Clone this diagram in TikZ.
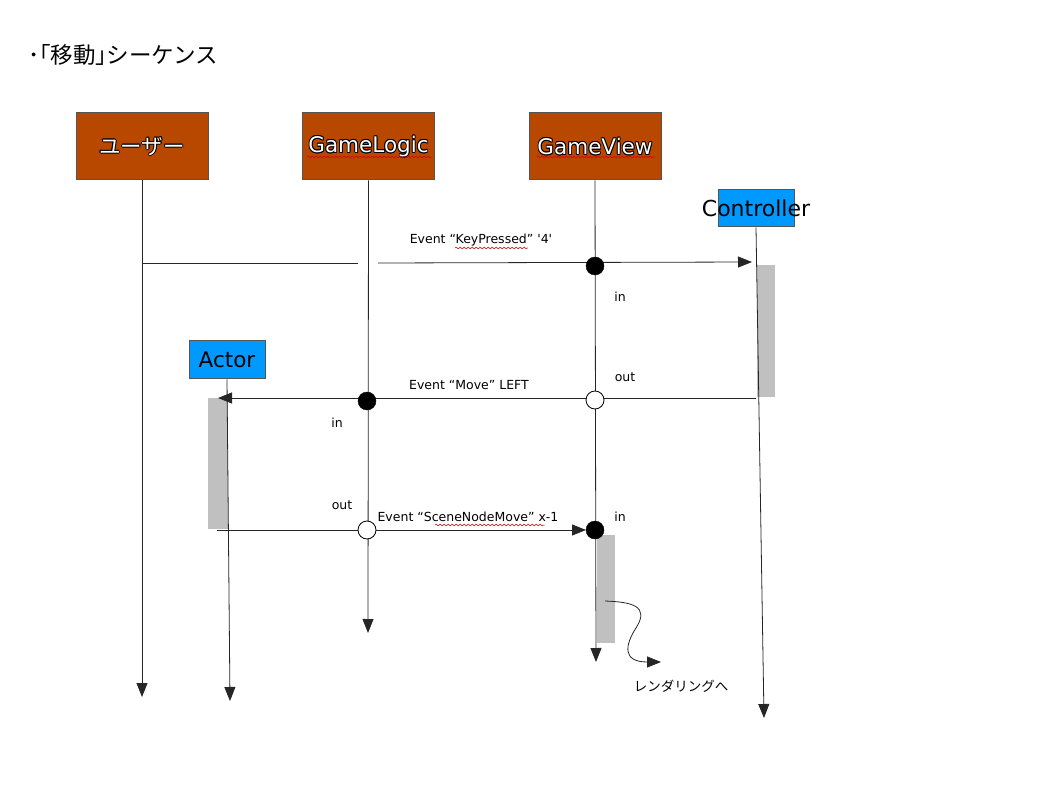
\documentclass[tikz,border=0pt]{standalone}
\usepackage{fontspec}
\setmainfont{DejaVu Sans}
\newfontfamily\dvp{DejaVu Sans}
\newfontfamily\jp{Noto Sans CJK JP}
\newfontfamily\jpp[RawFeature=+palt]{Noto Sans CJK JP}
\usetikzlibrary{arrows.meta,decorations.pathmorphing}
\definecolor{boxbrown}{HTML}{B84700}
\definecolor{boxblue}{HTML}{0099FF}
\definecolor{barg}{HTML}{C0C0C0}
\definecolor{edge}{HTML}{555555}
\newcommand\olt[1]{{\setbox0\hbox{\color{black}#1}\setbox2\hbox{\color{white}#1}%
\rlap{\kern0.9pt\copy0}\rlap{\kern-0.9pt\copy0}\rlap{\raise0.9pt\copy0}\rlap{\lower0.9pt\copy0}%
\rlap{\kern0.65pt\raise0.65pt\copy0}\rlap{\kern-0.65pt\raise0.65pt\copy0}%
\rlap{\kern0.65pt\lower0.65pt\copy0}\rlap{\kern-0.65pt\lower0.65pt\copy0}\box2}}
\tikzset{
  headbox/.style={draw=edge, line width=1pt, fill=boxbrown, minimum width=132pt, minimum height=67pt, inner sep=0pt, font=\fontsize{21.5}{24}\selectfont},
  bluebox/.style={draw=edge, line width=1pt, fill=boxblue, inner sep=0pt},
  life/.style={draw=black!85, line width=0.8pt},
  msg/.style={draw=black!85, line width=0.8pt},
  tip/.style={-{Triangle[length=14pt,width=11pt]}},
  lbl/.style={font=\dvp\fontsize{12.5}{14}\selectfont, inner sep=0pt},
  bar/.style={fill=barg, draw=none},
  dotf/.style={circle, fill=black, draw=black, minimum size=18pt, inner sep=0pt},
  doto/.style={circle, fill=white, draw=black, line width=0.8pt, minimum size=18pt, inner sep=0pt},
  spell/.style={draw=red!85!black, line width=0.5pt, decorate, decoration={snake, segment length=4pt, amplitude=0.9pt}},
}
\begin{document}
\begin{tikzpicture}[x=1pt,y=-1pt]
\useasboundingbox (0,0) rectangle (1058,794);
% title
\node[anchor=west, font=\fontsize{22.5}{26}\selectfont, inner sep=0pt] (title) at (28,55) {{\jpp ･「}{\jp 移動}{\jpp 」}{\jp シーケンス}};
% head boxes
\node[headbox] (user) at (142,146.5) {\jp\olt{ユーザー}};
\node[headbox] (logic) at (368.5,146.5) {\olt{GameLogic}};
\node[headbox] (view) at (595,146.5) {\olt{GameView}};
\node[bluebox, minimum width=76pt, minimum height=37pt, label={[font=\fontsize{22}{24}\selectfont, inner sep=0pt]center:Controller}] (ctrl) at (756,208.5) {};
\node[bluebox, minimum width=76pt, minimum height=38pt, label={[font=\fontsize{21.5}{24}\selectfont, inner sep=0pt]center:Actor}] (actor) at (227,360) {};
% spell-check marks
\coordinate (s1a) at (307,157); \coordinate (s1b) at (432,157);
\coordinate (s2a) at (537,157); \coordinate (s2b) at (655,157);
\draw[spell] (s1a) -- (s1b);
\draw[spell] (s2a) -- (s2b);
% activation bars
\node[bar, minimum width=18pt, minimum height=132pt, inner sep=0pt] (cbar) at (766,331) {};
\node[bar, minimum width=20pt, minimum height=131pt, inner sep=0pt] (abar) at (218,463.5) {};
\node[bar, minimum width=18pt, minimum height=108pt, inner sep=0pt] (vbar) at (606,589) {};
% lifeline ends
\coordinate (userE) at (142,697);
\coordinate (logicE) at (368,633);
\coordinate (viewE) at (596,662);
\coordinate (ctrlE) at (764,718);
\coordinate (actorE) at (230,701);
\draw[life, tip] (user.south) -- (userE);
\draw[life, tip] (logic.south) -- (logicE);
\draw[life, tip] (view.south) -- (viewE);
\draw[life, tip] (ctrl.south) -- (ctrlE);
\draw[life, tip] (actor.south) -- (actorE);
% message 1
\coordinate (m1a) at (142,263);
\coordinate (m1b) at (358,263);
\coordinate (m1c) at (378,263);
\coordinate (m1d) at (752,262);
\draw[msg] (m1a) -- (m1b);
\draw[msg, tip] (m1c) -- (m1d);
\node[dotf] (d1) at (595,266) {};
\node[lbl] (l1) at (481,240) {Event “KeyPressed” '4'};
\node[lbl] (in1) at (620,297) {in};
\coordinate (s3a) at (455,248); \coordinate (s3b) at (528,248);
\draw[spell] (s3a) -- (s3b);
% message 2
\coordinate (m2a) at (756,398);
\coordinate (m2b) at (218,398);
\draw[msg, tip] (m2a) -- (m2b);
\node[dotf] (d2) at (367,401) {};
\node[doto] (d3) at (595,400) {};
\node[lbl] (l2) at (469,385) {Event “Move” LEFT};
\node[lbl] (out2) at (625,377) {out};
\node[lbl] (in2) at (337,423) {in};
% message 3
\coordinate (m3a) at (217,530);
\coordinate (m3b) at (586,530);
\draw[msg, tip] (m3a) -- (m3b);
\node[doto] (d4) at (367,530) {};
\node[dotf] (d5) at (595,530) {};
\node[lbl] (l3) at (468,517) {Event “SceneNodeMove” x-1};
\node[lbl] (out3) at (342,505) {out};
\node[lbl] (in3) at (620,517) {in};
\coordinate (s4a) at (435,525); \coordinate (s4b) at (545,525);
\draw[spell] (s4a) -- (s4b);
% rendering
\coordinate (r1) at (605,601);
\coordinate (r2) at (661,662);
\draw[msg, tip] (r1) .. controls (632,602) and (650,606) .. (636,628) .. controls (625,645) and (622,662) .. (r2);
\node[lbl, font=\jp\fontsize{13.5}{15}\selectfont] (rend) at (681,686) {レンダリングへ};
\end{tikzpicture}
\end{document}
